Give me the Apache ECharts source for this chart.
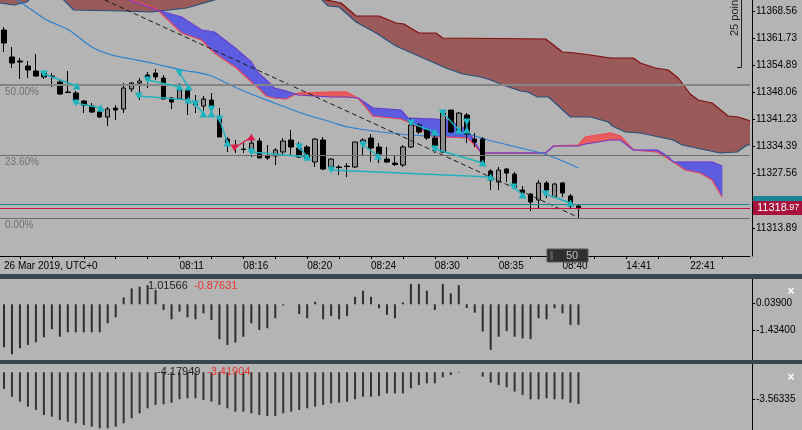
<!DOCTYPE html>
<html><head><meta charset="utf-8">
<script src="https://cdn.jsdelivr.net/npm/echarts@6/dist/echarts.min.js"></script>
<style>html,body{margin:0;padding:0;background:#b4b4b4;}#chart{width:802px;height:430px;}</style>
</head><body><div id="chart"></div>
<script>
// ---------- DATA ----------
const slotCount = 94;
const tickIdx = [0, 22, 30, 38, 46, 54, 62, 70, 78, 86];
const tickText = ['26 Mar 2019, UTC+0', '08:11', '08:16', '08:20', '08:24', '08:30', '08:35', '08:40', '14:41', '22:41'];
const priceTicks = [11368.56, 11361.73, 11354.89, 11348.06, 11341.23, 11334.39, 11327.56, 11313.89];
const priceMin = 11306.83, priceMax = 11371.33;

const opens = [11363.77,11356.97,11355.96,11354.70,11353.44,11352.93,11352.18,11350.67,11348.15,11347.89,
11345.88,11344.62,11343.11,11341.85,11344.11,11343.86,11348.90,11350.41,11352.43,11352.93,
11351.67,11346.63,11346.38,11348.65,11345.63,11344.62,11346.13,11341.85,11336.30,11334.54,
11333.78,11333.53,11335.80,11332.02,11332.02,11333.03,11336.05,11334.03,11334.29,11330.51,
11336.05,11329.25,11329.25,11329.50,11329.25,11335.29,11336.55,11334.29,11331.26,11330.25,
11329.75,11334.29,11339.83,11338.57,11336.55,11333.03,11343.61,11338.06,11342.35,11336.30,
11336.30,11328.24,11325.47,11328.74,11327.48,11323.45,11322.44,11320.93,11325.22,11321.69,
11325.22,11321.94,11319.43];
const closes = [11360.49,11355.45,11355.71,11353.69,11352.18,11351.93,11352.05,11347.64,11348.02,11346.13,
11344.87,11343.11,11341.85,11343.86,11343.61,11349.15,11350.41,11350.92,11351.42,11351.93,
11346.38,11345.63,11348.65,11346.13,11344.87,11346.38,11344.37,11336.81,11335.29,11334.41,
11333.66,11335.29,11331.51,11331.51,11333.53,11335.80,11334.29,11331.77,11331.51,11336.30,
11328.74,11331.26,11329.12,11329.37,11335.55,11336.05,11334.03,11332.52,11330.51,11329.88,
11334.29,11339.83,11338.06,11336.55,11334.54,11342.85,11338.06,11342.85,11337.56,11335.55,
11330.25,11325.97,11328.49,11327.73,11324.21,11322.69,11320.43,11325.22,11323.45,11324.97,
11322.69,11319.43,11318.97];
const lows = [11358.23,11354.19,11351.42,11351.67,11351.93,11351.42,11349.41,11347.39,11347.89,11345.37,
11342.85,11342.85,11341.59,11339.58,11341.09,11342.85,11348.15,11346.13,11349.15,11351.17,
11346.38,11343.86,11346.13,11342.35,11342.85,11342.85,11342.35,11336.81,11333.03,11332.77,
11332.77,11331.77,11331.51,11331.01,11329.75,11332.52,11332.27,11331.51,11331.01,11329.25,
11328.49,11328.49,11327.23,11326.73,11328.99,11332.27,11330.51,11330.25,11330.25,11329.50,
11329.25,11334.03,11337.56,11336.05,11332.77,11332.77,11337.81,11337.81,11335.29,11334.29,
11330.25,11323.45,11323.45,11325.47,11323.95,11321.94,11318.16,11318.91,11321.43,11321.69,
11321.69,11318.91,11316.41];
const highs = [11364.53,11359.49,11356.71,11355.96,11357.72,11353.44,11352.93,11351.17,11353.44,11348.40,
11346.13,11345.37,11343.61,11344.37,11344.87,11350.41,11350.67,11351.67,11353.19,11353.94,
11352.43,11346.88,11350.41,11349.15,11347.39,11347.14,11347.89,11344.11,11336.81,11336.05,
11335.29,11336.30,11336.55,11334.79,11334.03,11336.55,11338.57,11335.55,11334.79,11336.55,
11336.81,11331.51,11329.75,11330.25,11335.55,11336.55,11337.56,11335.29,11334.29,11332.27,
11334.79,11341.59,11340.33,11339.07,11337.81,11343.36,11343.61,11343.11,11342.85,11337.81,
11336.81,11328.74,11329.25,11328.99,11327.99,11324.46,11322.69,11325.97,11325.72,11325.22,
11325.47,11322.44,11319.67];

const osc1 = [-2.35,-2.73,-2.40,-2.22,-2.07,-1.80,-1.36,-1.77,-1.53,-1.53,
-1.53,-1.53,-1.53,-1.04,-0.71,0.38,0.87,0.96,1.05,0.78,
-0.31,-0.82,-0.40,-0.71,-0.82,-0.49,-0.86,-1.91,-2.22,-2.09,
-1.77,-1.04,-1.40,-1.31,-0.76,-0.06,0,-0.53,-0.76,0.14,
-0.82,-0.64,-0.82,-0.64,0.41,0.74,0.41,-0.22,-0.58,-0.76,
0.10,1.11,1.11,0.74,-0.31,1.11,0.60,1.05,-0.20,-0.46,
-1.49,-2.49,-1.77,-1.46,-1.77,-1.86,-1.90,-0.76,-0.82,-0.22,
-0.49,-1.13,-1.13];
const osc2 = [-2.20,-3.22,-3.87,-4.53,-4.97,-5.63,-5.85,-6.29,-6.51,-6.73,
-6.95,-7.17,-7.39,-7.39,-7.17,-6.73,-6.07,-5.41,-4.75,-4.31,
-4.22,-4.01,-3.56,-3.43,-3.43,-3.65,-3.87,-4.31,-4.75,-5.19,
-5.19,-5.41,-5.63,-5.76,-5.76,-5.41,-5.19,-4.97,-4.75,-4.53,
-4.31,-4.09,-4.01,-3.87,-3.56,-3.22,-3.22,-3.13,-2.77,-2.77,
-2.77,-2.11,-1.68,-1.45,-1.45,-0.66,-0.36,-0.05,0,0,
-0.58,-1.37,-1.68,-1.98,-2.55,-2.99,-3.56,-3.56,-3.43,-3.56,
-3.56,-4.01,-4.18];
const osc1Ticks = [0.039, -1.434];
const osc2Ticks = [-3.56335];
const osc1Text = ['1.01566', '-0.87631'];
const osc2Text = ['-4.17949', '-3.41904'];

const fibPrices = [11349.92, 11332.28, 11316.41];
const fibLabels = ['50.00%', '23.60%', '0.00%'];
const askPrice = 11319.93, bidPrice = 11318.97;

// brown Ichimoku cloud: [barIndex, price]
const brownUpper = [[-0.5,11381.41],[37.25,11376.0],[39.75,11371.6],[42.25,11370.57],[44.13,11367.30],[47,11367.30],
[49.13,11365.54],[50.13,11365.28],[52,11363.01],[54.13,11363.01],[55,11361.76],[67.88,11361.50],[70,11358.23],
[71.63,11357.98],[73.5,11357.47],[76,11356.72],[78.88,11356.72],[79.75,11355.46],[81.63,11354.19],[83.25,11353.69],
[84.5,11351.68],[86,11347.65],[87,11346.13],[88.75,11345.38],[90.75,11342.10],[92,11341.85],[93.5,11340.9]];
const brownLower = [[-0.5,11370.57],[1.25,11370.07],[2.88,11370.83],[3.75,11372.84],[6.63,11372.84],[7.5,11371.33],
[8.75,11368.81],[14.75,11368.56],[18.5,11368.31],[22.88,11369.31],[26.38,11371.33],[27.5,11373.0],[39.25,11373.0],
[39.75,11371.6],[40.63,11369.82],[42,11369.57],[44.13,11365.79],[46.63,11363.01],[49.13,11359.74],[52.25,11356.97],
[55.38,11354.20],[57.5,11352.69],[59.75,11351.93],[61,11351.17],[62.88,11349.66],[64.75,11348.40],[65.63,11348.15],
[66.88,11346.89],[68.25,11346.89],[71,11341.85],[73.5,11341.85],[75.75,11340.59],[76.25,11339.58],[77.88,11338.07],
[79.75,11337.82],[83.88,11336.06],[85,11334.80],[89.75,11332.78],[91.88,11333.03],[93.13,11334.80],[93.5,11334.80]];

// bright cloud: shared bar positions, span A (blue edge) and span B (red edge)
const cloudK = [14,16,19.13,22.25,24.75,26.38,29.13,31,31.88,32.88,33.88,35.38,36.88,41,42.88,44.38,46.25,49.75,50.63,
53.88,55.63,58.13,59.75,60.38,67.88,68.88,72,72.88,76,77.25,78.88,81.88,83.13,83.88,85.38,87.25,88.75,90];
const cloudA = [11373.35,11371.08,11368.81,11367.05,11363.77,11363.27,11358.98,11355.71,11352.94,11351.17,11349.16,
11348.40,11347.40,11346.89,11346.89,11346.64,11344.12,11343.62,11341.60,11341.35,11341.10,11338.58,11333.03,11332.78,
11332.78,11334.54,11334.54,11335.05,11336.06,11336.06,11333.54,11333.54,11332.03,11330.51,11330.51,11330.51,11330.51,11329.51];
const cloudB = [11373.35,11371.33,11369.06,11363.02,11361.25,11357.98,11354.20,11350.67,11349.16,11347.14,11346.64,
11346.39,11347.90,11348.15,11348.15,11346.64,11342.10,11341.35,11340.59,11336.81,11336.81,11336.56,11333.03,11332.78,
11332.78,11334.54,11334.80,11336.81,11337.82,11337.06,11333.54,11333.03,11331.52,11330.51,11328.50,11327.74,11325.98,11321.70];

const maLine = [[0.38,11372.59],[1.63,11371.33],[3.5,11368.81],[5.38,11366.29],[8.13,11363.77],[11,11359.49],[13.5,11357.47],
[16,11356.46],[18.5,11355.46],[22.25,11353.69],[25.63,11352.43],[29.75,11348.65],[33.88,11345.38],[37.25,11342.86],
[41,11340.59],[43.13,11339.33],[47.25,11338.07],[53.5,11337.06],[57.63,11337.57],[60.63,11336.06],[64.75,11334.04],
[68.13,11332.28],[72,11329.00]];
const trendLine = [[12.63,11371.33],[71.88,11316.66]];

// signal arrows: [barFrom, priceFrom(▼), barTo, priceTo(▲)]
const signalsCyan = [[5,11352.69,9.13,11349.66],[9,11345.38,12.13,11344.12],[18,11351.17,22,11349.41],
[16.88,11347.14,23.13,11346.13],[22,11352.94,23.13,11349.41],[24,11345.13,25,11342.61],[26,11343.87,26,11342.61],
[27,11341.35,28,11335.30],[31,11333.03,38,11331.77],[37,11334.29,38,11331.77],[41,11328.50,61,11326.73],
[45,11334.80,46.88,11332.03],[51,11340.34,54,11338.07],[54,11333.79,60,11330.26],[55,11342.86,57,11338.58],
[58,11340.59,58,11338.58],[63.88,11324.22,65,11322.20],[67.88,11322.45,71,11320.18]];
const signalsRed = [[28.88,11334.04,31,11336.81]];

// ---------- CHART ----------
const FONT = 'Liberation Sans, Arial, sans-serif';
const categories = Array.from({length: slotCount}, (_, i) => String(i));
const candleData = opens.map((o, i) => [o, closes[i], lows[i], highs[i]]);
const cloudSegs = cloudK.slice(0, -1).map((k, i) => [k, cloudA[i], cloudB[i], cloudK[i+1], cloudA[i+1], cloudB[i+1]]);

function clipRect(params) {
  const c = params.coordSys;
  return {type: 'rect', shape: {x: c.x, y: c.y, width: c.width, height: c.height}};
}
function signalRender(color) {
  return function (params, api) {
    const p1 = api.coord([api.value(0), api.value(1)]);
    const p2 = api.coord([api.value(2), api.value(3)]);
    return {type: 'group', clipPath: clipRect(params), children: [
      {type: 'line', shape: {x1: p1[0], y1: p1[1], x2: p2[0], y2: p2[1]}, style: {stroke: color, lineWidth: 1.4}},
      {type: 'polygon', shape: {points: [[p1[0]-4, p1[1]-3.5], [p1[0]+4, p1[1]-3.5], [p1[0], p1[1]+3.5]]}, style: {fill: color}},
      {type: 'polygon', shape: {points: [[p2[0]-4, p2[1]+3.5], [p2[0]+4, p2[1]+3.5], [p2[0], p2[1]-3.5]]}, style: {fill: color}}
    ]};
  };
}

const chart = echarts.init(document.getElementById('chart'), null, {renderer: 'canvas'});
const axisTextStyle = {color: '#000', fontSize: 10, fontFamily: FONT};

const option = {
  animation: false,
  backgroundColor: '#b4b4b4',
  grid: [
    {left: -2, top: 0, width: 752, height: 256},
    {left: -2, top: 279, width: 752, height: 81},
    {left: -2, top: 364, width: 752, height: 66}
  ],
  xAxis: [
    {type: 'category', gridIndex: 0, data: categories, boundaryGap: true,
     axisLine: {onZero: false, lineStyle: {color: '#000', width: 1}},
     axisTick: {show: true, alignWithLabel: true, interval: (i) => i % 4 === 2, length: 3, lineStyle: {color: '#000'}},
     axisLabel: Object.assign({interval: (i) => tickIdx.includes(i), formatter: (v, i) => tickText[tickIdx.indexOf(i)] || '',
       align: 'left', margin: 5}, axisTextStyle),
     splitLine: {show: false}},
    {type: 'value', gridIndex: 0, min: -0.5, max: slotCount - 0.5, show: false, axisLine: {onZero: false}},
    {type: 'category', gridIndex: 1, data: categories, show: false, axisLine: {onZero: false}},
    {type: 'category', gridIndex: 2, data: categories, show: false, axisLine: {onZero: false}}
  ],
  yAxis: [
    {type: 'value', gridIndex: 0, position: 'right', offset: 2, min: priceMin, max: priceMax, scale: true,
     axisLine: {show: true, onZero: false, lineStyle: {color: '#000'}},
     axisTick: {show: true, length: 3, customValues: priceTicks, lineStyle: {color: '#000'}},
     axisLabel: Object.assign({customValues: priceTicks, formatter: (v) => v.toFixed(2), margin: 4}, axisTextStyle),
     splitLine: {show: false}},
    {type: 'value', gridIndex: 1, position: 'right', offset: 2, min: -3.04, max: 1.38,
     axisLine: {show: true, onZero: false, lineStyle: {color: '#000'}},
     axisTick: {show: true, length: 3, customValues: osc1Ticks, lineStyle: {color: '#000'}},
     axisLabel: Object.assign({customValues: osc1Ticks, formatter: (v) => v.toFixed(5), margin: 4}, axisTextStyle),
     splitLine: {show: false}},
    {type: 'value', gridIndex: 2, position: 'right', offset: 2, min: -7.61, max: 1.095,
     axisLine: {show: true, onZero: false, lineStyle: {color: '#000'}},
     axisTick: {show: true, length: 3, customValues: osc2Ticks, lineStyle: {color: '#000'}},
     axisLabel: Object.assign({customValues: osc2Ticks, formatter: (v) => v.toFixed(5), margin: 4}, axisTextStyle),
     splitLine: {show: false}}
  ],
  series: [
    // brown cloud fill
    {type: 'custom', xAxisIndex: 1, yAxisIndex: 0, z: 1, clip: true, silent: true,
     data: [[0, priceMax]],
     renderItem: function (params, api) {
       const pts = brownUpper.map(d => api.coord(d)).concat(brownLower.slice().reverse().map(d => api.coord(d)));
       return {type: 'polygon', clipPath: clipRect(params), shape: {points: pts}, style: {fill: '#9a5a5a'}};
     }},
    {type: 'line', xAxisIndex: 1, yAxisIndex: 0, z: 2, data: brownUpper, symbol: 'none', lineStyle: {color: '#800d0d', width: 1.2}},
    {type: 'line', xAxisIndex: 1, yAxisIndex: 0, z: 2, data: brownLower, symbol: 'none', lineStyle: {color: '#24507e', width: 1.2}},
    // bright cloud fill
    {type: 'custom', xAxisIndex: 1, yAxisIndex: 0, z: 1, clip: true, silent: true,
     data: cloudSegs, encode: {x: [0, 3], y: [1, 2]},
     renderItem: function (params, api) {
       const a0 = api.coord([api.value(0), api.value(1)]), b0 = api.coord([api.value(0), api.value(2)]);
       const a1 = api.coord([api.value(3), api.value(4)]), b1 = api.coord([api.value(3), api.value(5)]);
       const blue = api.value(1) + api.value(4) >= api.value(2) + api.value(5);
       const col = blue ? '#5c5ce0' : '#e85c5c';
       return {type: 'polygon', clipPath: clipRect(params), shape: {points: [a0, a1, b1, b0]},
               style: {fill: col, stroke: col, lineWidth: 0.6}};
     }},
    {type: 'line', xAxisIndex: 1, yAxisIndex: 0, z: 2, data: cloudK.map((k, i) => [k, cloudB[i]]), symbol: 'none',
     lineStyle: {color: '#f04650', width: 1.2}},
    {type: 'line', xAxisIndex: 1, yAxisIndex: 0, z: 2, data: cloudK.map((k, i) => [k, cloudA[i]]), symbol: 'none',
     lineStyle: {color: '#6a3fd0', width: 1.2}},
    // moving average + level lines
    {type: 'line', xAxisIndex: 1, yAxisIndex: 0, z: 2, data: maLine, symbol: 'none', smooth: 0.3,
     lineStyle: {color: '#2b80d0', width: 1.2},
     markLine: {silent: true, symbol: 'none', animation: false,
       data: fibPrices.map((p, i) => ({yAxis: p,
         lineStyle: {color: i === 0 ? '#858585' : '#6c6c6c', width: i === 0 ? 2 : 1, type: 'solid'},
         label: {show: true, formatter: fibLabels[i], position: 'insideStartBottom', distance: [5, 2],
                 color: '#707070', fontSize: 10, fontFamily: FONT}}))
         .concat([
           {yAxis: askPrice, lineStyle: {color: '#1d8696', width: 1, type: 'solid'}, label: {show: false}},
           {yAxis: bidPrice, lineStyle: {color: '#c8143c', width: 1, type: 'solid'}, label: {show: false}}
         ])}},
    // candles
    {type: 'candlestick', xAxisIndex: 0, yAxisIndex: 0, z: 3, data: candleData, barWidth: 5,
     itemStyle: {color: '#8c8c8c', color0: '#000', borderColor: '#000', borderColor0: '#000', borderWidth: 1}},
    // trendline
    {type: 'line', xAxisIndex: 1, yAxisIndex: 0, z: 4, data: trendLine, symbol: 'none',
     lineStyle: {color: '#1a1a1a', width: 1, type: [5, 3]}},
    // signals
    {type: 'custom', xAxisIndex: 1, yAxisIndex: 0, z: 5, clip: true, silent: true, data: signalsCyan,
     encode: {x: [0, 2], y: [1, 3]}, renderItem: signalRender('#1db3bf')},
    {type: 'custom', xAxisIndex: 1, yAxisIndex: 0, z: 5, clip: true, silent: true, data: signalsRed,
     encode: {x: [0, 2], y: [1, 3]}, renderItem: signalRender('#dc1e4a')},
    // oscillators
    {type: 'bar', xAxisIndex: 2, yAxisIndex: 1, data: osc1, barWidth: 2, itemStyle: {color: '#2e2e2e'}},
    {type: 'bar', xAxisIndex: 3, yAxisIndex: 2, data: osc2, barWidth: 2, itemStyle: {color: '#333333'}}
  ],
  graphic: [
    {type: 'rect', z: 100, shape: {x: 0, y: 274, width: 802, height: 5}, style: {fill: '#37474f'}},
    {type: 'rect', z: 100, shape: {x: 0, y: 360, width: 802, height: 4}, style: {fill: '#37474f'}},
    // 25 points ruler
    {type: 'line', z: 100, shape: {x1: 741.5, y1: 0, x2: 741.5, y2: 67.5}, style: {stroke: '#222', lineWidth: 1}},
    {type: 'line', z: 100, shape: {x1: 737, y1: 67.5, x2: 741.5, y2: 67.5}, style: {stroke: '#222', lineWidth: 1}},
    {type: 'text', z: 100, x: 735, y: 36, rotation: Math.PI / 2,
     style: {text: '25 points', fill: '#222', font: '11px ' + FONT, textAlign: 'left', textVerticalAlign: 'middle'}},
    // price tags
    {type: 'rect', z: 100, shape: {x: 753, y: 196, width: 49, height: 8}, style: {fill: '#1a8594'}},
    {type: 'rect', z: 101, shape: {x: 753, y: 201, width: 49, height: 14}, style: {fill: '#a8103e'}},
    {type: 'text', z: 102, x: 757, y: 208,
     style: {text: '{a|' + bidPrice.toFixed(2).slice(0, -3) + '}{b|' + bidPrice.toFixed(2).slice(-3) + '}',
       rich: {a: {fill: '#fff', font: '11px ' + FONT}, b: {fill: '#fff', font: '9px ' + FONT}},
       textVerticalAlign: 'middle'}},
    // "50" box
    {type: 'rect', z: 100, shape: {x: 547, y: 249, width: 41, height: 13}, style: {fill: '#2f2f2f', stroke: '#5a5a5a', lineWidth: 1}},
    {type: 'text', z: 101, x: 572, y: 256,
     style: {text: '50', fill: '#c0c0c0', font: '11px ' + FONT, textAlign: 'center', textVerticalAlign: 'middle'}},
    {type: 'rect', z: 101, shape: {x: 550, y: 251, width: 3, height: 9}, style: {fill: '#555'}},
    // oscillator values
    {type: 'text', z: 100, x: 148, y: 286, style: {text: osc1Text[0], fill: '#222', font: '11px ' + FONT, textVerticalAlign: 'middle'}},
    {type: 'text', z: 100, x: 194, y: 286, style: {text: osc1Text[1], fill: '#e8322d', font: '11px ' + FONT, textVerticalAlign: 'middle'}},
    {type: 'text', z: 100, x: 157, y: 372, style: {text: osc2Text[0], fill: '#222', font: '11px ' + FONT, textVerticalAlign: 'middle'}},
    {type: 'text', z: 100, x: 207, y: 372, style: {text: osc2Text[1], fill: '#e8322d', font: '11px ' + FONT, textVerticalAlign: 'middle'}},
    // close icons
    {type: 'text', z: 100, x: 791, y: 292, style: {text: '×', fill: '#fff', font: 'bold 12px ' + FONT, textAlign: 'center', textVerticalAlign: 'middle'}},
    {type: 'text', z: 100, x: 791, y: 378, style: {text: '×', fill: '#fff', font: 'bold 12px ' + FONT, textAlign: 'center', textVerticalAlign: 'middle'}}
  ]
};
chart.setOption(option);
</script></body></html>
